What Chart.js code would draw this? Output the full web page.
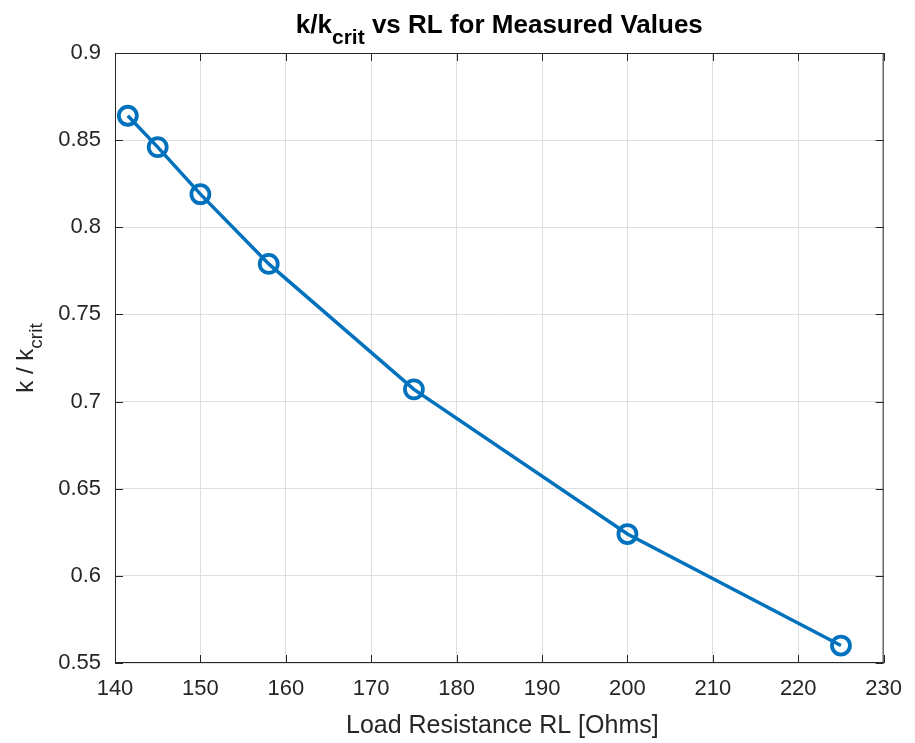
<!DOCTYPE html>
<html>
<head>
<meta charset="utf-8">
<script src="https://cdn.jsdelivr.net/npm/chart.js@4.4.0/dist/chart.umd.min.js"></script>
<style>
  html, body { margin: 0; padding: 0; background: #fff; }
  #wrap { width: 915px; height: 743px; }
</style>
</head>
<body>
<div id="wrap"><canvas id="kChart"></canvas></div>
<script>
// measured points
const loadResistance = [141.5, 145, 150, 158, 175, 200, 225];
const kRatio = [0.864, 0.846, 0.819, 0.779, 0.707, 0.624, 0.560];
const xTicks = [140, 150, 160, 170, 180, 190, 200, 210, 220, 230];
const yTicks = [0.55, 0.6, 0.65, 0.7, 0.75, 0.8, 0.85, 0.9];

const FONT = '"Liberation Sans", Arial, Helvetica, sans-serif';
const TXT = '#262626';

/* draws the frame, the inward tick marks and the text with subscripts */
const matlabBits = {
    id: 'matlabBits',
    afterDraw(chart) {
        const { ctx, chartArea: a, scales } = chart;
        ctx.save();
        ctx.strokeStyle = TXT;
        ctx.lineWidth = 1;
        ctx.strokeRect(a.left + 0.5, a.top + 0.5, a.right - a.left - 1, a.bottom - a.top - 1);
        ctx.beginPath();
        xTicks.forEach(v => {
            const x = Math.round(scales.x.getPixelForValue(v)) + 0.5;
            ctx.moveTo(x, a.bottom); ctx.lineTo(x, a.bottom - 8);
            ctx.moveTo(x, a.top); ctx.lineTo(x, a.top + 8);
        });
        yTicks.forEach(v => {
            const y = Math.round(scales.y.getPixelForValue(v)) + 0.5;
            ctx.moveTo(a.left, y); ctx.lineTo(a.left + 8, y);
            ctx.moveTo(a.right, y); ctx.lineTo(a.right - 8, y);
        });
        ctx.stroke();

        // text with a subscript, centred on cx, baseline cy
        function subText(parts, cx, cy, bold, size, subSize, drop) {
            const w = bold ? 'bold ' : '';
            const big = w + size + 'px ' + FONT;
            const small = w + subSize + 'px ' + FONT;
            let total = 0;
            parts.forEach(p => { ctx.font = p.sub ? small : big; total += ctx.measureText(p.t).width; });
            let x = cx - total / 2;
            ctx.textBaseline = 'alphabetic';
            ctx.textAlign = 'left';
            parts.forEach(p => {
                ctx.font = p.sub ? small : big;
                ctx.fillText(p.t, x, cy + (p.sub ? drop : 0));
                x += ctx.measureText(p.t).width;
            });
        }

        ctx.fillStyle = '#000';
        subText([{ t: 'k/k' }, { t: 'crit', sub: true }, { t: ' vs RL for Measured Values' }],
            (a.left + a.right) / 2, 33, true, 26, 21, 11);

        ctx.fillStyle = TXT;
        ctx.font = '25px ' + FONT;
        ctx.textAlign = 'center';
        ctx.fillText('Load Resistance RL [Ohms]', (a.left + a.right) / 2 + 3, 733);

        ctx.save();
        ctx.translate(33, (a.top + a.bottom) / 2);
        ctx.rotate(-Math.PI / 2);
        subText([{ t: 'k / k' }, { t: 'crit', sub: true }], 0, 0, false, 24, 19, 9);
        ctx.restore();
        ctx.restore();
    }
};

new Chart(document.getElementById('kChart'), {
    type: 'line',
    data: {
        datasets: [{
            data: loadResistance.map((x, i) => ({ x: x, y: kRatio[i] })),
            borderColor: '#0072BD',
            borderWidth: 3.5,
            pointRadius: 9,
            pointBorderWidth: 3.8,
            pointBorderColor: '#0072BD',
            pointBackgroundColor: 'rgba(0,0,0,0)',
            tension: 0
        }]
    },
    plugins: [matlabBits],
    options: {
        responsive: true,
        maintainAspectRatio: false,
        animation: false,
        layout: { padding: { top: 53, right: 27, left: 0, bottom: 0 } },
        plugins: { legend: { display: false }, tooltip: { enabled: false } },
        scales: {
            x: {
                type: 'linear',
                min: 140, max: 230,
                afterBuildTicks: s => { s.ticks = xTicks.map(v => ({ value: v })); },
                afterFit: s => { s.height = 80; },
                grid: { color: '#dedede', drawTicks: false },
                border: { display: false },
                ticks: { color: TXT, font: { family: FONT, size: 22 }, padding: 13, maxRotation: 0 }
            },
            y: {
                min: 0.55, max: 0.9,
                afterBuildTicks: s => { s.ticks = yTicks.map(v => ({ value: v })); },
                afterFit: s => { s.width = 115; },
                grid: { color: '#dedede', drawTicks: false },
                border: { display: false },
                ticks: { color: TXT, font: { family: FONT, size: 22 }, padding: 14,
                    callback: v => String(+v.toFixed(2)) }
            }
        }
    }
});
</script>
</body>
</html>
